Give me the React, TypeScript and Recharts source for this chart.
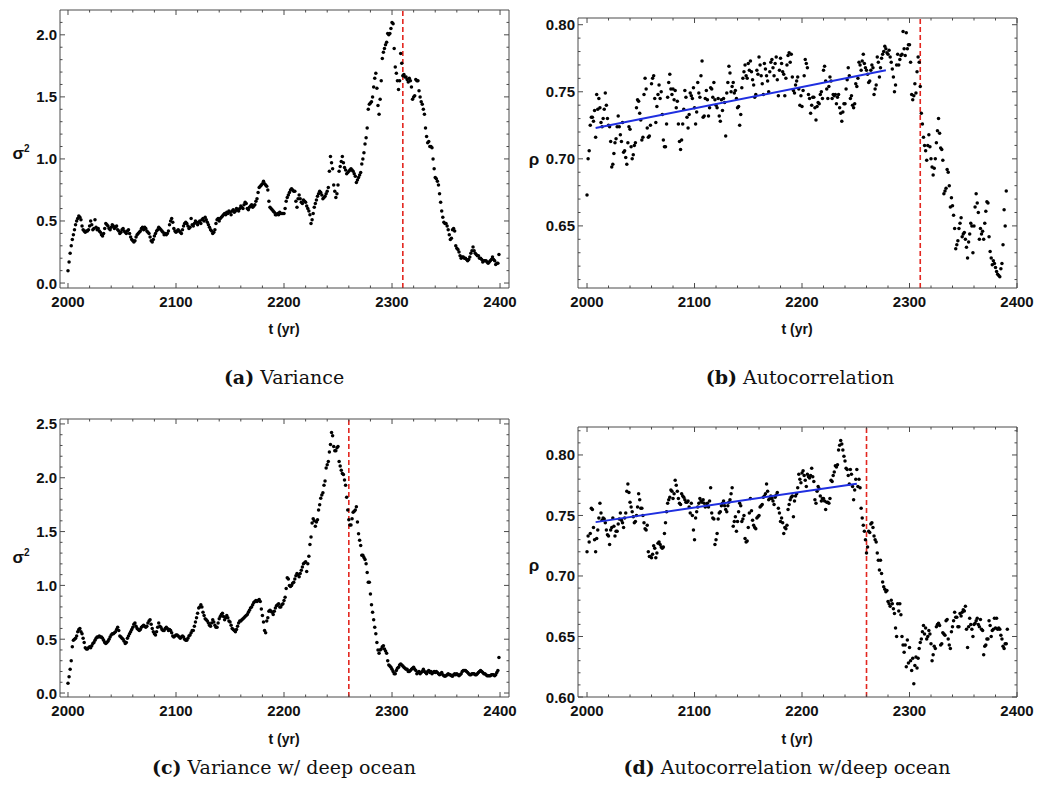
import React from 'react';
import { ScatterChart, Scatter, XAxis, YAxis, ReferenceLine } from 'recharts';

// ---------- data ----------
const START_YEAR = 2000; // one sample per year

const VAR_A = [
  0.10,0.17,0.24,0.30,0.35,0.39,0.43,0.47,0.50,0.52,
  0.54,0.53,0.51,0.46,0.43,0.42,0.41,0.42,0.42,0.43,
  0.46,0.50,0.47,0.43,0.44,0.51,0.45,0.43,0.44,0.42,
  0.41,0.39,0.38,0.40,0.44,0.48,0.47,0.46,0.44,0.43,
  0.45,0.47,0.46,0.44,0.45,0.46,0.43,0.42,0.40,0.41,
  0.43,0.44,0.42,0.41,0.40,0.42,0.43,0.40,0.37,0.35,
  0.34,0.33,0.34,0.37,0.39,0.40,0.41,0.42,0.44,0.45,
  0.43,0.45,0.44,0.42,0.41,0.40,0.37,0.34,0.33,0.35,
  0.38,0.40,0.42,0.43,0.45,0.44,0.43,0.42,0.41,0.39,
  0.40,0.39,0.40,0.42,0.47,0.50,0.52,0.49,0.44,0.42,
  0.41,0.42,0.43,0.42,0.41,0.40,0.43,0.46,0.48,0.49,
  0.48,0.46,0.44,0.45,0.52,0.47,0.46,0.48,0.50,0.49,
  0.47,0.49,0.50,0.48,0.51,0.52,0.50,0.53,0.51,0.49,
  0.47,0.45,0.43,0.42,0.40,0.41,0.43,0.48,0.51,0.52,
  0.50,0.52,0.53,0.54,0.55,0.56,0.55,0.57,0.56,0.58,
  0.57,0.55,0.58,0.59,0.57,0.58,0.60,0.59,0.58,0.60,
  0.62,0.61,0.60,0.63,0.65,0.64,0.60,0.59,0.61,0.62,
  0.63,0.61,0.62,0.63,0.66,0.68,0.73,0.77,0.78,0.79,
  0.80,0.82,0.80,0.79,0.78,0.75,0.66,0.61,0.60,0.59,
  0.58,0.57,0.55,0.55,0.56,0.55,0.57,0.56,0.56,0.56,
  0.56,0.60,0.66,0.69,0.71,0.73,0.75,0.76,0.75,0.74,
  0.74,0.66,0.61,0.68,0.71,0.68,0.65,0.64,0.67,0.66,
  0.65,0.62,0.60,0.58,0.55,0.48,0.51,0.56,0.61,0.64,
  0.67,0.70,0.72,0.74,0.73,0.71,0.68,0.69,0.70,0.72,
  0.74,0.77,0.90,1.02,0.97,0.92,0.79,0.74,0.69,0.72,
  0.79,0.90,0.94,0.98,1.02,0.97,0.93,0.91,0.88,0.89,
  0.90,0.91,0.92,0.91,0.90,0.88,0.86,0.81,0.83,0.85,
  0.87,0.89,0.96,1.00,1.05,1.12,1.17,1.25,1.40,1.44,
  1.45,1.46,1.50,1.58,1.65,1.69,1.57,1.43,1.36,1.48,
  1.63,1.81,1.86,1.89,1.92,1.94,2.01,2.00,2.01,2.05,
  2.10,2.09,1.89,1.74,1.69,1.63,1.56,1.63,1.85,1.77,
  1.67,1.68,1.66,1.66,1.64,1.62,1.65,1.63,1.58,1.48,
  1.50,1.51,1.64,1.63,1.63,1.55,1.50,1.46,1.44,1.40,
  1.36,1.25,1.18,1.13,1.14,1.10,1.10,1.09,1.00,0.92,
  0.85,0.84,0.82,0.79,0.72,0.65,0.58,0.53,0.49,0.48,
  0.48,0.46,0.43,0.39,0.35,0.36,0.43,0.44,0.42,0.30,
  0.28,0.27,0.25,0.22,0.20,0.21,0.21,0.20,0.20,0.19,
  0.18,0.19,0.21,0.24,0.26,0.29,0.26,0.24,0.23,0.22,
  0.22,0.20,0.20,0.19,0.17,0.18,0.18,0.18,0.17,0.16,
  0.17,0.18,0.19,0.21,0.19,0.18,0.15,0.16,0.16,0.23,
];

const AC_B = [
  0.673,0.700,0.706,0.725,0.731,0.731,0.728,0.736,0.716,0.748,
  0.737,0.745,0.738,0.727,0.724,0.730,0.737,0.749,0.740,0.730,
  0.725,0.724,0.713,0.694,0.696,0.704,0.712,0.715,0.724,0.732,
  0.724,0.718,0.713,0.727,0.705,0.706,0.701,0.696,0.712,0.724,
  0.722,0.709,0.700,0.703,0.710,0.712,0.738,0.744,0.743,0.734,
  0.729,0.714,0.716,0.748,0.760,0.752,0.723,0.716,0.717,0.725,
  0.756,0.760,0.762,0.745,0.727,0.739,0.748,0.755,0.745,0.750,
  0.733,0.714,0.709,0.709,0.726,0.746,0.757,0.763,0.752,0.748,
  0.752,0.744,0.751,0.738,0.743,0.726,0.713,0.707,0.714,0.726,
  0.737,0.751,0.746,0.731,0.723,0.733,0.749,0.747,0.745,0.753,
  0.738,0.726,0.735,0.757,0.749,0.746,0.762,0.773,0.731,0.732,
  0.745,0.751,0.744,0.732,0.738,0.753,0.752,0.746,0.757,0.744,
  0.740,0.738,0.745,0.732,0.728,0.744,0.736,0.745,0.742,0.717,
  0.749,0.757,0.769,0.764,0.750,0.754,0.757,0.749,0.751,0.745,
  0.738,0.739,0.725,0.733,0.753,0.760,0.765,0.770,0.762,0.760,
  0.771,0.766,0.773,0.765,0.759,0.755,0.746,0.748,0.766,0.763,
  0.776,0.770,0.762,0.756,0.748,0.771,0.767,0.762,0.758,0.750,
  0.765,0.772,0.774,0.768,0.762,0.771,0.776,0.759,0.747,0.766,
  0.775,0.771,0.765,0.763,0.747,0.760,0.770,0.777,0.779,0.772,
  0.778,0.761,0.751,0.749,0.755,0.758,0.761,0.752,0.740,0.747,
  0.739,0.751,0.762,0.774,0.771,0.768,0.748,0.745,0.734,0.740,
  0.746,0.746,0.738,0.729,0.739,0.742,0.741,0.748,0.750,0.745,
  0.766,0.769,0.758,0.752,0.745,0.754,0.761,0.758,0.745,0.748,
  0.747,0.748,0.741,0.746,0.748,0.738,0.734,0.728,0.735,0.741,
  0.741,0.752,0.759,0.768,0.762,0.745,0.747,0.740,0.738,0.741,
  0.756,0.754,0.760,0.772,0.770,0.766,0.773,0.778,0.771,0.768,
  0.766,0.763,0.757,0.758,0.766,0.770,0.768,0.748,0.752,0.755,
  0.776,0.772,0.761,0.768,0.775,0.778,0.780,0.784,0.782,0.779,
  0.778,0.781,0.776,0.772,0.767,0.761,0.750,0.755,0.770,0.778,
  0.770,0.774,0.777,0.778,0.795,0.782,0.777,0.794,0.782,0.785,
  0.785,0.772,0.748,0.744,0.747,0.756,0.749,0.765,0.776,0.772,
  0.754,0.734,0.726,0.716,0.710,0.706,0.699,0.710,0.718,0.709,
  0.700,0.694,0.688,0.693,0.700,0.712,0.721,0.730,0.719,0.708,
  0.707,0.699,0.674,0.676,0.678,0.692,0.690,0.680,0.664,0.671,
  0.665,0.658,0.648,0.633,0.636,0.639,0.648,0.652,0.656,0.642,
  0.644,0.645,0.640,0.634,0.626,0.638,0.644,0.652,0.650,0.630,
  0.650,0.664,0.674,0.667,0.660,0.640,0.648,0.644,0.646,0.640,
  0.652,0.661,0.668,0.667,0.642,0.631,0.626,0.621,0.624,0.622,
  0.619,0.616,0.614,0.613,0.612,0.618,0.622,0.636,0.662,0.650,
  0.676,
];

const VAR_C = [
  0.09,0.15,0.22,0.30,0.43,0.49,0.50,0.51,0.53,0.57,
  0.59,0.60,0.57,0.55,0.51,0.47,0.42,0.41,0.41,0.42,
  0.43,0.42,0.44,0.46,0.47,0.49,0.51,0.52,0.52,0.53,
  0.52,0.52,0.51,0.49,0.47,0.46,0.47,0.48,0.50,0.52,
  0.54,0.55,0.55,0.56,0.57,0.59,0.61,0.58,0.53,0.52,
  0.51,0.50,0.48,0.46,0.47,0.51,0.53,0.55,0.57,0.59,
  0.61,0.64,0.65,0.62,0.60,0.59,0.58,0.59,0.61,0.62,
  0.63,0.62,0.61,0.62,0.65,0.67,0.68,0.64,0.60,0.57,
  0.55,0.54,0.57,0.61,0.65,0.62,0.61,0.59,0.58,0.58,
  0.60,0.61,0.60,0.58,0.59,0.58,0.56,0.53,0.52,0.53,
  0.54,0.54,0.53,0.52,0.51,0.52,0.53,0.52,0.50,0.49,
  0.49,0.51,0.53,0.54,0.56,0.58,0.58,0.62,0.66,0.70,
  0.74,0.79,0.80,0.82,0.80,0.75,0.72,0.69,0.68,0.67,
  0.65,0.63,0.62,0.65,0.68,0.66,0.63,0.61,0.61,0.65,
  0.69,0.71,0.73,0.74,0.71,0.68,0.70,0.72,0.70,0.67,
  0.66,0.63,0.60,0.59,0.58,0.57,0.59,0.62,0.65,0.67,
  0.67,0.68,0.69,0.70,0.71,0.72,0.73,0.75,0.77,0.79,
  0.80,0.82,0.84,0.85,0.86,0.85,0.86,0.87,0.85,0.78,
  0.72,0.66,0.58,0.56,0.67,0.70,0.76,0.77,0.76,0.75,
  0.73,0.76,0.79,0.81,0.82,0.83,0.80,0.80,0.82,0.83,
  0.86,0.89,0.97,1.07,1.06,1.00,0.99,1.00,1.02,1.03,
  1.06,1.09,1.11,1.10,1.08,1.11,1.14,1.17,1.20,1.21,
  1.22,1.13,1.20,1.27,1.38,1.45,1.58,1.62,1.60,1.55,
  1.59,1.61,1.70,1.75,1.81,1.84,1.86,1.93,1.97,2.09,
  2.12,2.15,2.24,2.31,2.42,2.39,2.29,2.25,2.25,2.28,
  2.29,2.15,2.11,2.07,2.04,2.03,1.98,1.93,1.82,1.70,
  1.61,1.56,1.56,1.62,1.68,1.69,1.70,1.73,1.59,1.48,
  1.42,1.37,1.28,1.28,1.26,1.24,1.20,1.12,1.03,1.03,
  0.92,0.82,0.75,0.68,0.61,0.55,0.47,0.40,0.37,0.40,
  0.41,0.43,0.44,0.41,0.39,0.37,0.30,0.26,0.25,0.24,
  0.22,0.20,0.18,0.18,0.21,0.23,0.24,0.26,0.27,0.26,
  0.25,0.24,0.23,0.22,0.22,0.20,0.20,0.21,0.22,0.23,
  0.24,0.22,0.21,0.18,0.19,0.20,0.18,0.19,0.20,0.22,
  0.20,0.19,0.18,0.20,0.21,0.19,0.20,0.18,0.19,0.20,
  0.19,0.20,0.19,0.18,0.17,0.18,0.19,0.17,0.16,0.155,
  0.16,0.17,0.18,0.17,0.17,0.16,0.155,0.17,0.18,0.17,
  0.18,0.17,0.16,0.17,0.18,0.20,0.21,0.21,0.21,0.20,
  0.19,0.18,0.17,0.17,0.18,0.18,0.18,0.17,0.17,0.18,
  0.19,0.20,0.21,0.20,0.19,0.18,0.18,0.17,0.16,0.16,
  0.16,0.16,0.17,0.17,0.17,0.16,0.17,0.19,0.21,0.33,
];

const AC_D = [
  0.720,0.733,0.728,0.735,0.756,0.755,0.740,0.730,0.720,0.731,
  0.738,0.748,0.760,0.752,0.746,0.748,0.747,0.744,0.738,0.734,
  0.733,0.726,0.738,0.740,0.748,0.741,0.733,0.737,0.737,0.743,
  0.747,0.752,0.746,0.744,0.740,0.748,0.752,0.770,0.776,0.769,
  0.761,0.757,0.753,0.749,0.744,0.745,0.750,0.757,0.768,0.763,
  0.756,0.756,0.750,0.744,0.739,0.738,0.742,0.720,0.716,0.716,
  0.715,0.718,0.725,0.723,0.715,0.719,0.727,0.728,0.726,0.724,
  0.723,0.724,0.735,0.744,0.753,0.760,0.763,0.765,0.771,0.770,
  0.764,0.768,0.779,0.775,0.770,0.764,0.760,0.759,0.768,0.766,
  0.765,0.763,0.761,0.761,0.762,0.757,0.752,0.760,0.750,0.738,
  0.730,0.748,0.753,0.757,0.760,0.764,0.762,0.761,0.763,0.760,
  0.757,0.758,0.760,0.757,0.762,0.773,0.752,0.748,0.747,0.726,
  0.730,0.735,0.747,0.752,0.753,0.758,0.760,0.762,0.758,0.755,
  0.753,0.758,0.761,0.763,0.768,0.773,0.741,0.745,0.749,0.737,
  0.745,0.753,0.760,0.758,0.745,0.747,0.750,0.731,0.728,0.729,
  0.740,0.752,0.764,0.754,0.746,0.742,0.740,0.739,0.748,0.749,
  0.750,0.757,0.758,0.759,0.765,0.766,0.768,0.776,0.770,0.763,
  0.764,0.766,0.764,0.762,0.759,0.765,0.767,0.769,0.756,0.752,
  0.745,0.748,0.744,0.735,0.740,0.739,0.742,0.755,0.759,0.763,
  0.765,0.766,0.749,0.762,0.766,0.768,0.773,0.784,0.780,0.777,
  0.785,0.787,0.783,0.779,0.774,0.784,0.782,0.781,0.783,0.789,
  0.782,0.778,0.763,0.760,0.770,0.774,0.772,0.766,0.762,0.764,
  0.764,0.762,0.755,0.761,0.761,0.760,0.764,0.779,0.778,0.783,
  0.786,0.791,0.790,0.792,0.804,0.808,0.812,0.809,0.804,0.799,
  0.795,0.789,0.788,0.783,0.776,0.788,0.784,0.774,0.763,0.771,
  0.780,0.788,0.774,0.780,0.773,0.756,0.748,0.742,0.737,0.730,
  0.719,0.724,0.737,0.736,0.743,0.744,0.740,0.733,0.730,0.728,
  0.719,0.713,0.705,0.713,0.702,0.695,0.691,0.689,0.687,0.688,
  0.679,0.677,0.675,0.680,0.677,0.673,0.669,0.657,0.650,0.677,
  0.671,0.677,0.668,0.650,0.643,0.637,0.643,0.625,0.647,0.628,
  0.641,0.630,0.622,0.632,0.611,0.626,0.633,0.624,0.632,0.640,
  0.645,0.648,0.654,0.659,0.652,0.657,0.648,0.650,0.655,0.652,
  0.644,0.630,0.635,0.642,0.640,0.658,0.660,0.661,0.659,0.643,
  0.644,0.653,0.652,0.651,0.663,0.664,0.648,0.643,0.640,0.654,
  0.658,0.663,0.670,0.666,0.666,0.658,0.658,0.669,0.667,0.670,
  0.672,0.671,0.675,0.656,0.641,0.658,0.665,0.660,0.656,0.650,
  0.660,0.661,0.663,0.665,0.660,0.658,0.664,0.656,0.655,0.635,
  0.642,0.643,0.648,0.648,0.663,0.659,0.650,0.655,0.656,0.665,
  0.657,0.665,0.656,0.657,0.656,0.651,0.648,0.642,0.640,0.644,
  0.644,0.656,
];

// linear trend fits (endpoints) and tipping thresholds
const TREND_B = [{ t: 2008, v: 0.723 }, { t: 2278, v: 0.766 }];
const TREND_D = [{ t: 2008, v: 0.7445 }, { t: 2251, v: 0.7763 }];
const THRESHOLD_AB = 2310;
const THRESHOLD_CD = 2260;

// ticks
const X_MAJOR = [2000, 2100, 2200, 2300, 2400];
const X_TICKS = [2000, 2020, 2040, 2060, 2080, 2100, 2120, 2140, 2160, 2180, 2200, 2220, 2240, 2260, 2280, 2300, 2320, 2340, 2360, 2380, 2400];
const VAR_A_MAJOR = [0, 0.5, 1.0, 1.5, 2.0];
const VAR_A_TICKS = [0, 0.1, 0.2, 0.3, 0.4, 0.5, 0.6, 0.7, 0.8, 0.9, 1.0, 1.1, 1.2, 1.3, 1.4, 1.5, 1.6, 1.7, 1.8, 1.9, 2.0, 2.1];
const VAR_C_MAJOR = [0, 0.5, 1.0, 1.5, 2.0, 2.5];
const VAR_C_TICKS = [0, 0.1, 0.2, 0.3, 0.4, 0.5, 0.6, 0.7, 0.8, 0.9, 1.0, 1.1, 1.2, 1.3, 1.4, 1.5, 1.6, 1.7, 1.8, 1.9, 2.0, 2.1, 2.2, 2.3, 2.4, 2.5];
const AC_B_MAJOR = [0.65, 0.70, 0.75, 0.80];
const AC_B_TICKS = [0.61, 0.62, 0.63, 0.64, 0.65, 0.66, 0.67, 0.68, 0.69, 0.70, 0.71, 0.72, 0.73, 0.74, 0.75, 0.76, 0.77, 0.78, 0.79, 0.80];
const AC_D_MAJOR = [0.60, 0.65, 0.70, 0.75, 0.80];
const AC_D_TICKS = [0.60, 0.61, 0.62, 0.63, 0.64, 0.65, 0.66, 0.67, 0.68, 0.69, 0.70, 0.71, 0.72, 0.73, 0.74, 0.75, 0.76, 0.77, 0.78, 0.79, 0.80, 0.81, 0.82];

const toPoints = (vals: number[]) => vals.map((v, i) => ({ t: START_YEAR + i, v }));

// ---------- style ----------
const FRAME = '#4a4a4a';
const TICK_FONT = '"Liberation Sans", Arial, Helvetica, sans-serif';
const SERIF = '"DejaVu Serif", "Liberation Serif", serif';
const RED = '#e3261f';
const BLUE = '#1f2fe0';

const isMajor = (majors: number[], v: number) => majors.some((m) => Math.abs(m - v) < 1e-6);

type Rect = { l: number; t: number; r: number; b: number };

// plot rect is given in chart-local coordinates
function makeTick(side: 'bottom' | 'top' | 'left' | 'right', majors: number[], digits: number, rect: Rect) {
  return (props: any) => {
    const { payload } = props;
    const v = payload.value;
    const major = isMajor(majors, v);
    const len = major ? 5 : 2.5;
    let line: any;
    let label: any = null;
    if (side === 'bottom') {
      const x = props.x;
      line = <path d={`M${x},${rect.b}V${rect.b - len}`} stroke={FRAME} strokeWidth={1} fill="none" />;
      if (major)
        label = (
          <text x={x} y={rect.b + 19} textAnchor="middle" fontFamily={TICK_FONT} fontWeight="bold" fontSize={15} fill="#111">
            {String(v)}
          </text>
        );
    } else if (side === 'top') {
      const x = props.x;
      line = <path d={`M${x},${rect.t}V${rect.t + len}`} stroke={FRAME} strokeWidth={1} fill="none" />;
    } else if (side === 'left') {
      const y = props.y;
      line = <path d={`M${rect.l},${y}H${rect.l + len}`} stroke={FRAME} strokeWidth={1} fill="none" />;
      if (major)
        label = (
          <text x={rect.l - 3} y={y + 5.5} textAnchor="end" fontFamily={TICK_FONT} fontWeight="bold" fontSize={15} fill="#111">
            {v.toFixed(digits)}
          </text>
        );
    } else {
      const y = props.y;
      line = <path d={`M${rect.r},${y}H${rect.r - len}`} stroke={FRAME} strokeWidth={1} fill="none" />;
    }
    return (
      <g>
        {line}
        {label}
      </g>
    );
  };
}

const Dot = (props: any) => <circle cx={props.cx} cy={props.cy} r={1.75} fill="#000" />;
const NoDot = () => <g />;

type PanelProps = {
  box: { x: number; y: number; w: number; h: number };
  plot: Rect;
  xDomain: [number, number];
  yDomain: [number, number];
  yTicks: number[];
  yMajor: number[];
  yDigits: number;
  data: { t: number; v: number }[];
  trend?: { t: number; v: number }[];
  threshold: number;
};

function Panel(p: PanelProps) {
  const { box, plot } = p;
  const local: Rect = { l: plot.l - box.x, t: plot.t - box.y, r: plot.r - box.x, b: plot.b - box.y };
  const yAxisW = plot.l - box.x;
  const xAxisH = box.y + box.h - plot.b;
  // the mirrored top/right axes take 1px each (zero-sized axes are not drawn)
  const margin = { top: plot.t - box.y - 1, right: box.x + box.w - plot.r - 1, left: 0, bottom: 0 };
  return (
    <div style={{ position: 'absolute', left: box.x, top: box.y, width: box.w, height: box.h }}>
      <ScatterChart width={box.w} height={box.h} margin={margin}>
        <XAxis
          xAxisId="b"
          dataKey="t"
          type="number"
          orientation="bottom"
          domain={p.xDomain}
          allowDataOverflow
          ticks={X_TICKS}
          interval={0}
          height={xAxisH}
          tickSize={0}
          tickMargin={0}
          tickLine={false}
          axisLine={{ stroke: FRAME, strokeWidth: 1 }}
          tick={makeTick('bottom', X_MAJOR, 0, local)}
        />
        <XAxis
          xAxisId="t"
          dataKey="t"
          type="number"
          orientation="top"
          domain={p.xDomain}
          allowDataOverflow
          ticks={X_TICKS}
          interval={0}
          height={1}
          tickSize={0}
          tickMargin={0}
          tickLine={false}
          axisLine={{ stroke: FRAME, strokeWidth: 1 }}
          tick={makeTick('top', X_MAJOR, 0, local)}
        />
        <YAxis
          yAxisId="l"
          dataKey="v"
          type="number"
          orientation="left"
          domain={p.yDomain}
          allowDataOverflow
          ticks={p.yTicks}
          interval={0}
          width={yAxisW}
          tickSize={0}
          tickMargin={0}
          tickLine={false}
          axisLine={{ stroke: FRAME, strokeWidth: 1 }}
          tick={makeTick('left', p.yMajor, p.yDigits, local)}
        />
        <YAxis
          yAxisId="r"
          dataKey="v"
          type="number"
          orientation="right"
          domain={p.yDomain}
          allowDataOverflow
          ticks={p.yTicks}
          interval={0}
          width={1}
          tickSize={0}
          tickMargin={0}
          tickLine={false}
          axisLine={{ stroke: FRAME, strokeWidth: 1 }}
          tick={makeTick('right', p.yMajor, p.yDigits, local)}
        />
        {/* invisible series that binds the mirrored top/right frame axes */}
        <Scatter xAxisId="t" yAxisId="r" data={p.data} dataKey="v" shape={NoDot} isAnimationActive={false} />
        <Scatter xAxisId="b" yAxisId="l" data={p.data} dataKey="v" shape={Dot} isAnimationActive={false} />
        {p.trend ? (
          <Scatter
            xAxisId="b"
            yAxisId="l"
            data={p.trend}
            dataKey="v"
            shape={NoDot}
            line={{ stroke: BLUE, strokeWidth: 2 }}
            isAnimationActive={false}
          />
        ) : null}
        <ReferenceLine xAxisId="b" yAxisId="l" x={p.threshold} stroke={RED} strokeWidth={1.6} strokeDasharray="5 3" />
      </ScatterChart>
    </div>
  );
}

const axisTitle: React.CSSProperties = {
  position: 'absolute',
  fontFamily: TICK_FONT,
  fontWeight: 'bold',
  fontSize: 14,
  color: '#111',
  whiteSpace: 'nowrap',
  transform: 'translate(-50%, -50%)',
  lineHeight: 1,
};

const symTitle: React.CSSProperties = { ...axisTitle, fontSize: 17 };

const caption: React.CSSProperties = {
  position: 'absolute',
  fontFamily: SERIF,
  fontSize: 19,
  color: '#111',
  whiteSpace: 'nowrap',
  transform: 'translate(-50%, -50%)',
  lineHeight: 1,
};

export default function App() {
  const dataA = toPoints(VAR_A);
  const dataB = toPoints(AC_B);
  const dataC = toPoints(VAR_C);
  const dataD = toPoints(AC_D);
  return (
    <div style={{ position: 'absolute', left: 0, top: 0, width: 1043, height: 805, background: '#fff', overflow: 'hidden' }}>
      <Panel
        box={{ x: 0, y: 0, w: 521, h: 320 }}
        plot={{ l: 60, t: 10, r: 509, b: 288 }}
        xDomain={[1992.6, 2408.3]}
        yDomain={[-0.04, 2.2]}
        yTicks={VAR_A_TICKS}
        yMajor={VAR_A_MAJOR}
        yDigits={1}
        data={dataA}
        threshold={THRESHOLD_AB}
      />
      <Panel
        box={{ x: 521, y: 0, w: 522, h: 320 }}
        plot={{ l: 578, t: 18, r: 1017, b: 288 }}
        xDomain={[1991.6, 2400]}
        yDomain={[0.6037, 0.805]}
        yTicks={AC_B_TICKS}
        yMajor={AC_B_MAJOR}
        yDigits={2}
        data={dataB}
        trend={TREND_B}
        threshold={THRESHOLD_AB}
      />
      <Panel
        box={{ x: 0, y: 400, w: 521, h: 330 }}
        plot={{ l: 60, t: 419, r: 509, b: 697 }}
        xDomain={[1992.6, 2408.3]}
        yDomain={[-0.037, 2.546]}
        yTicks={VAR_C_TICKS}
        yMajor={VAR_C_MAJOR}
        yDigits={1}
        data={dataC}
        threshold={THRESHOLD_CD}
      />
      <Panel
        box={{ x: 521, y: 400, w: 522, h: 330 }}
        plot={{ l: 578, t: 427, r: 1017, b: 697 }}
        xDomain={[1991.6, 2400]}
        yDomain={[0.6, 0.8231]}
        yTicks={AC_D_TICKS}
        yMajor={AC_D_MAJOR}
        yDigits={2}
        data={dataD}
        trend={TREND_D}
        threshold={THRESHOLD_CD}
      />

      <div style={{ ...symTitle, left: 21, top: 153 }}>σ<sup style={{ fontSize: 10 }}>2</sup></div>
      <div style={{ ...symTitle, left: 534, top: 159 }}>ρ</div>
      <div style={{ ...symTitle, left: 21, top: 557 }}>σ<sup style={{ fontSize: 10 }}>2</sup></div>
      <div style={{ ...symTitle, left: 534, top: 565 }}>ρ</div>

      <div style={{ ...axisTitle, left: 284, top: 329 }}>t (yr)</div>
      <div style={{ ...axisTitle, left: 797, top: 329 }}>t (yr)</div>
      <div style={{ ...axisTitle, left: 284, top: 739 }}>t (yr)</div>
      <div style={{ ...axisTitle, left: 797, top: 739 }}>t (yr)</div>

      <div style={{ ...caption, left: 284, top: 377 }}><b>(a)</b> Variance</div>
      <div style={{ ...caption, left: 800, top: 377 }}><b>(b)</b> Autocorrelation</div>
      <div style={{ ...caption, left: 284, top: 767 }}><b>(c)</b> Variance w/ deep ocean</div>
      <div style={{ ...caption, left: 787, top: 767 }}><b>(d)</b> Autocorrelation w/deep ocean</div>
    </div>
  );
}
